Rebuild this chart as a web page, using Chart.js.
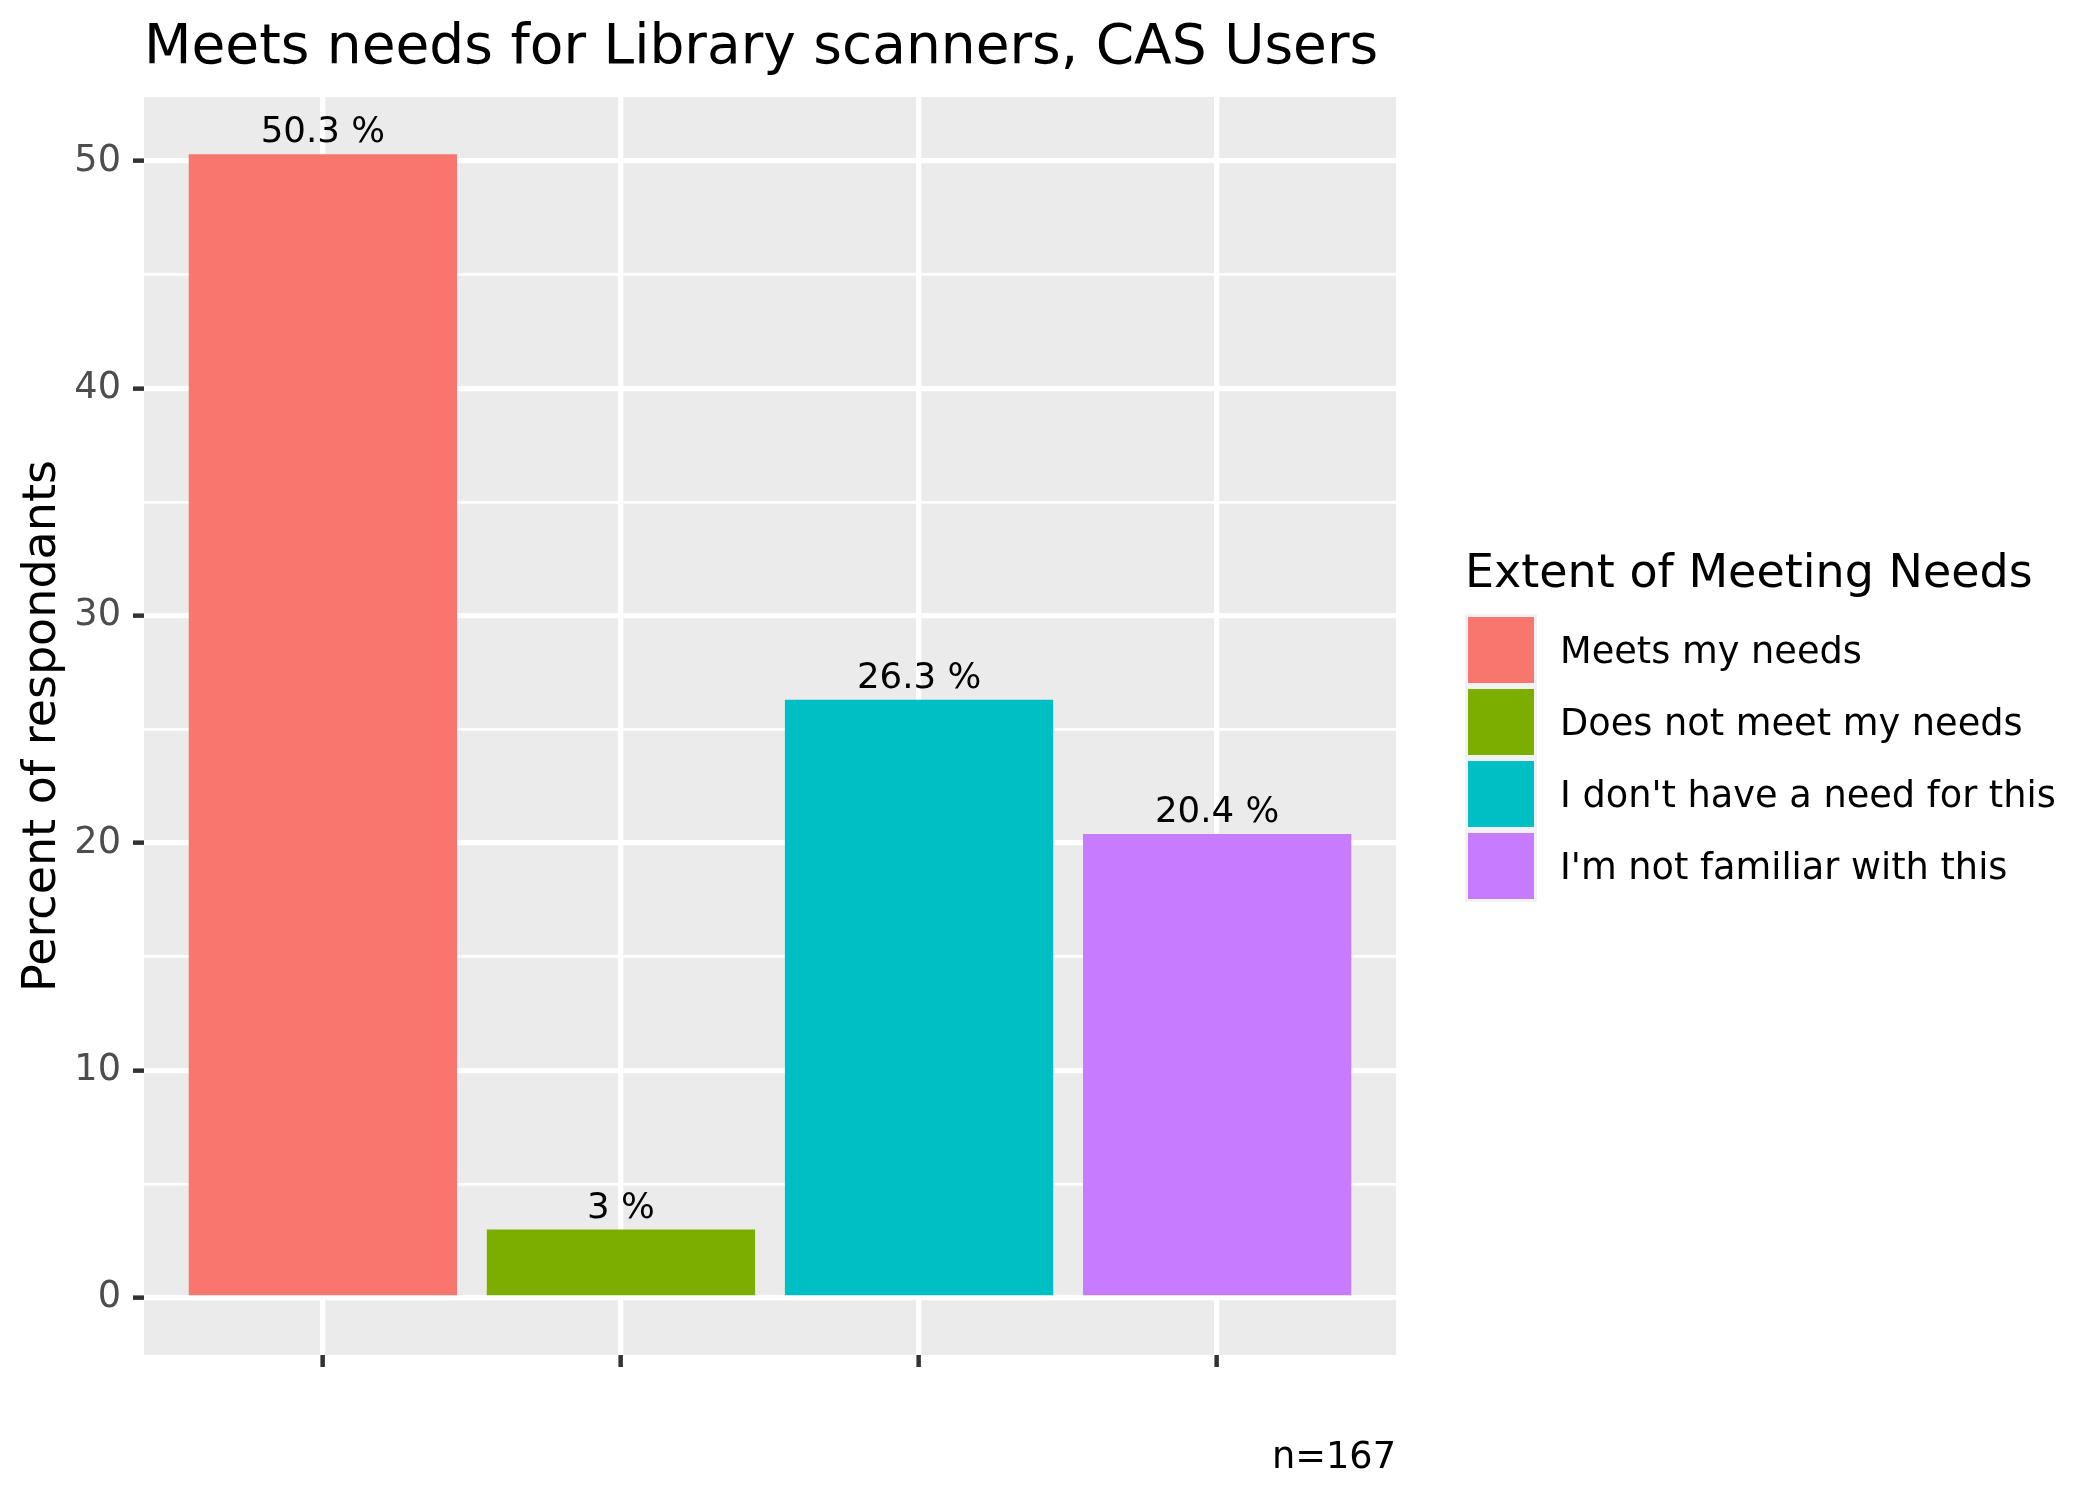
<!DOCTYPE html>
<html><head><meta charset="utf-8">
<script src="https://cdn.jsdelivr.net/npm/chart.js@4"></script>
<style>html,body{margin:0;padding:0;background:#fff;}#wrap{width:2100px;height:1499px;}</style>
</head><body><div id="wrap"><canvas id="c" width="2100" height="1499"></canvas></div>
<script>
const categories = ["Meets my needs", "Does not meet my needs", "I don't have a need for this", "I'm not familiar with this"];
const percentValues = [50.3, 3, 26.3, 20.4];
const barColors = ["#F8766D", "#7CAE00", "#00BFC4", "#C77CFF"];
const yTickLabels = ["0", "10", "20", "30", "40", "50"];
const titleText = "Meets needs for Library scanners, CAS Users";
const yAxisTitle = "Percent of respondants";
const legendTitle = "Extent of Meeting Needs";
const captionText = "n=167";

const FONT = '"DejaVu Sans", sans-serif';

const ggPlugin = {
  id: 'gg',
  beforeDraw(chart) {
    const {ctx, chartArea: a} = chart;
    ctx.save();
    ctx.fillStyle = '#FFFFFF';
    ctx.fillRect(0, 0, chart.width, chart.height);
    ctx.fillStyle = '#EBEBEB';
    ctx.fillRect(a.left, a.top, a.right - a.left, a.bottom - a.top);
    ctx.restore();
  },
  afterDatasetsDraw(chart) {
    const ctx = chart.ctx;
    const meta = chart.getDatasetMeta(0);
    ctx.save();
    ctx.font = '35.6px ' + FONT;
    ctx.fillStyle = '#000000';
    ctx.textAlign = 'center';
    ctx.textBaseline = 'alphabetic';
    meta.data.forEach((bar, i) => {
      ctx.fillText(percentValues[i] + ' %', bar.x, bar.y - 12);
    });
    ctx.restore();
  },
  afterDraw(chart) {
    const {ctx, chartArea: a} = chart;
    ctx.save();
    // title
    ctx.fillStyle = '#000000';
    ctx.font = '55px ' + FONT;
    ctx.textAlign = 'left';
    ctx.textBaseline = 'alphabetic';
    ctx.fillText(titleText, a.left, 63);
    // y axis title
    ctx.save();
    ctx.translate(55, (a.top + a.bottom) / 2);
    ctx.rotate(-Math.PI / 2);
    ctx.font = '46px ' + FONT;
    ctx.textAlign = 'center';
    ctx.fillText(yAxisTitle, 0, 0);
    ctx.restore();
    // legend
    ctx.font = '46px ' + FONT;
    ctx.textAlign = 'left';
    ctx.fillText(legendTitle, 1465, 587);
    const keyX = 1465, keyY = 614, keySize = 72;
    ctx.font = '36.7px ' + FONT;
    categories.forEach((cat, i) => {
      const y = keyY + i * keySize;
      ctx.fillStyle = '#F2F2F2';
      ctx.fillRect(keyX, y, keySize, keySize);
      ctx.fillStyle = barColors[i];
      ctx.fillRect(keyX + 3, y + 3, keySize - 6, keySize - 6);
      ctx.fillStyle = '#000000';
      ctx.fillText(cat, 1560, y + keySize / 2 + 13);
    });
    // caption
    ctx.font = '36.7px ' + FONT;
    ctx.textAlign = 'right';
    ctx.fillText(captionText, a.right, 1468);
    ctx.restore();
  }
};

new Chart(document.getElementById('c'), {
  type: 'bar',
  data: {
    datasets: [{
      label: legendTitle,
      data: percentValues.map((v, i) => ({x: i + 1, y: v})),
      backgroundColor: barColors,
      borderWidth: 0,
      barPercentage: 0.9,
      categoryPercentage: 1.0
    }]
  },
  options: {
    responsive: false,
    animation: false,
    devicePixelRatio: 1,
    layout: {padding: {top: 97, right: 704, left: 0, bottom: 0}},
    plugins: {legend: {display: false}, title: {display: false}, tooltip: {enabled: false}},
    scales: {
      x: {
        type: 'linear',
        min: 0.4,
        max: 4.6,
        offset: false,
        border: {display: false},
        grid: {color: '#FFFFFF', lineWidth: 5.3, tickColor: '#333333', tickLength: 12, tickWidth: 4.5, offset: false},
        ticks: {stepSize: 1, includeBounds: false, autoSkip: false, callback: () => ''},
        afterFit: s => { s.height = 144; }
      },
      y: {
        type: 'linear',
        min: -2.515,
        max: 52.815,
        border: {display: false},
        grid: {
          color: '#FFFFFF',
          lineWidth: c => (c.tick && c.tick.value % 10 === 0) ? 5.3 : 2.7,
          tickColor: c => (c.tick && c.tick.value % 10 === 0) ? '#333333' : 'rgba(0,0,0,0)',
          tickLength: 11,
          tickWidth: 4.5
        },
        ticks: {
          stepSize: 5,
          includeBounds: false,
          autoSkip: false,
          padding: 12,
          color: '#4D4D4D',
          font: {family: FONT, size: 36.7},
          callback: v => (v % 10 === 0) ? yTickLabels[v / 10] : ''
        },
        afterFit: s => { s.width = 144; }
      }
    }
  },
  plugins: [ggPlugin]
});
</script></body></html>
